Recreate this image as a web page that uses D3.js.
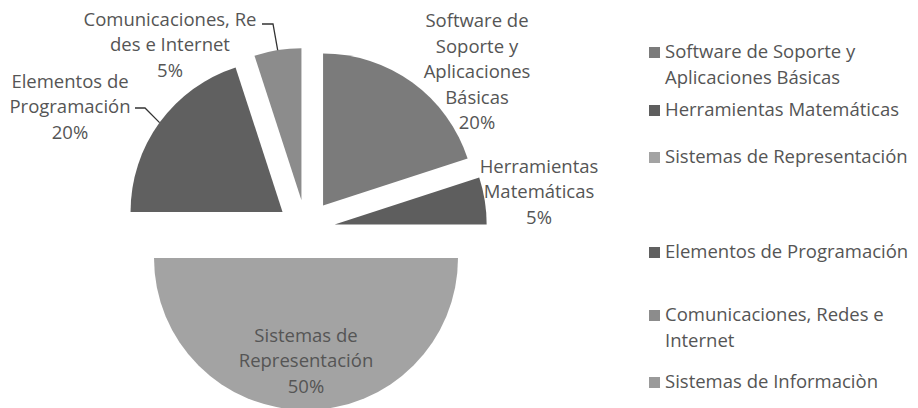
<!DOCTYPE html>
<html>
<head>
<meta charset="utf-8">
<script src="https://cdn.jsdelivr.net/npm/d3@7"></script>
<style>
  body { margin: 0; background: #fff; }
  text { font-family: "Open Sans", Lato, sans-serif; fill: #555; }
</style>
</head>
<body>
<div id="chart"></div>
<script>
// data
var categories = ["Software de Soporte y Aplicaciones Básicas", "Herramientas Matemáticas",
                  "Sistemas de Representación", "Elementos de Programación",
                  "Comunicaciones, Redes e Internet", "Sistemas de Informaciòn"];
var values = [20, 5, 50, 20, 5, 0];
var colors = ["#7b7b7b", "#5e5e5e", "#a3a3a3", "#606060", "#8c8c8c", "#9a9a9a"];
// label text as wrapped on the chart
var pieLabels = [["Software de", "Soporte y", "Aplicaciones", "Básicas", "20%"],
                 ["Herramientas", "Matemáticas", "5%"],
                 ["Sistemas de", "Representación", "50%"],
                 ["Elementos de", "Programación", "20%"],
                 ["Comunicaciones, Re", "des e Internet", "5%"]];
var legendLines = [["Software de Soporte y", "Aplicaciones Básicas"], ["Herramientas Matemáticas"],
                   ["Sistemas de Representación"], ["Elementos de Programación"],
                   ["Comunicaciones, Redes e", "Internet"], ["Sistemas de Informaciòn"]];

function start(){
    var width = 918, height = 408;
    var cx = 306, cy = 229, radius = 152, explode = 29;
    var fontSize = 18.5, lineH = 25.5;

    var svg = d3.select("#chart").append("svg")
        .attr("width", width)
        .attr("height", height);

    var pie = d3.pie().sort(null).value(function(d){ return d; });
    var arcs = pie(values);
    var arc = d3.arc().innerRadius(0).outerRadius(radius);

    function shift(d, dist){
        var mid = (d.startAngle + d.endAngle) / 2;
        return [dist * Math.sin(mid), -dist * Math.cos(mid)];
    }

    var g = svg.append("g").attr("transform", "translate(" + cx + "," + cy + ")");

    g.selectAll("path.slice")
        .data(arcs.filter(function(d){ return d.value > 0; }))
        .enter().append("path")
        .attr("class", "slice")
        .attr("d", arc)
        .attr("fill", function(d){ return colors[d.index]; })
        .attr("transform", function(d){
            var s = shift(d, explode);
            return "translate(" + s[0] + "," + s[1] + ")";
        });

    // where excel dropped each label (centre of the text block, relative to pie centre)
    var labelSpot = [[171, -157], [233, -37], [0, 132], [-236, -122], [-136, -184]];

    arcs.forEach(function(d, i){
        if (d.value <= 0) return;
        var lines = pieLabels[i];
        var spot = labelSpot[i];
        var top = spot[1] - (lines.length - 1) * lineH / 2;
        var t = g.append("text")
            .attr("text-anchor", "middle")
            .style("font-size", fontSize + "px");
        lines.forEach(function(line, k){
            t.append("tspan")
                .attr("x", spot[0])
                .attr("y", top + k * lineH)
                .attr("dy", "0.35em")
                .text(line);
        });
    });

    // leader lines for the two labels that sit away from their slice
    function leader(i, fromX, fromY, elbow){
        var d = arcs[i];
        var s = shift(d, explode);
        var mid = (d.startAngle + d.endAngle) / 2;
        var ex = s[0] + radius * Math.sin(mid), ey = s[1] - radius * Math.cos(mid);
        g.append("path")
            .attr("d", "M" + fromX + "," + fromY + "H" + (fromX + elbow) + "L" + ex + "," + ey)
            .attr("fill", "none")
            .attr("stroke", "#333")
            .attr("stroke-width", 1.3);
    }
    leader(4, -44, -205, 11);
    leader(3, -171, -121, 10);

    // legend
    var legend = svg.append("g").attr("transform", "translate(649,0)");
    var rowY = [52, 110, 157, 252, 315, 382];
    legendLines.forEach(function(lines, i){
        var row = legend.append("g").attr("transform", "translate(0," + rowY[i] + ")");
        row.append("rect")
            .attr("x", 0).attr("y", -5)
            .attr("width", 11).attr("height", 11)
            .attr("fill", colors[i]);
        var t = row.append("text").style("font-size", fontSize + "px");
        lines.forEach(function(line, k){
            t.append("tspan")
                .attr("x", 16)
                .attr("y", k * 26)
                .attr("dy", "0.35em")
                .text(line);
        });
    });
}

start()
</script>
</body>
</html>
